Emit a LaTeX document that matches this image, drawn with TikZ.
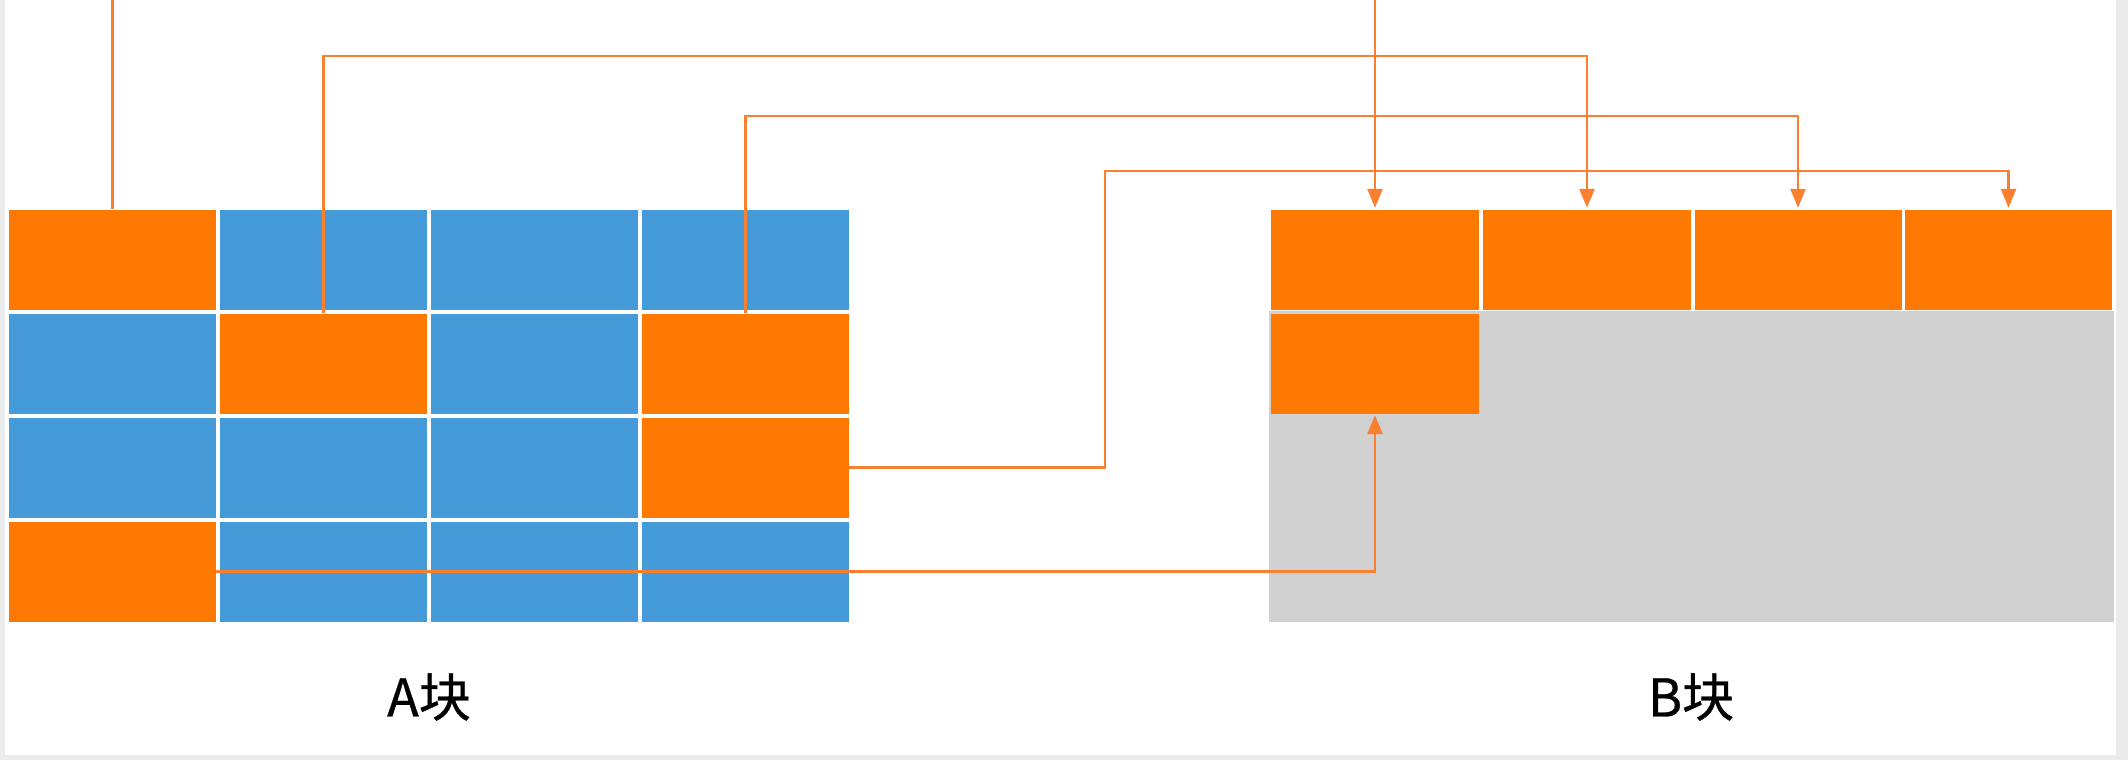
\documentclass[tikz,border=0pt]{standalone}
\usepackage{fontspec}
\newfontfamily\cjk[FakeBold=0.6]{Noto Sans CJK SC}
\usetikzlibrary{arrows.meta}
\definecolor{cellorange}{HTML}{FF7800}
\definecolor{cellblue}{HTML}{449BD8}
\definecolor{cellgray}{HTML}{D1D1D1}
\definecolor{linkorange}{HTML}{FA8030}
\definecolor{framegray}{HTML}{EBEBEB}
\tikzset{
  cell/.style={rectangle, inner sep=0pt, minimum width=207pt, minimum height=100pt, draw=none},
  oc/.style={cell, fill=cellorange},
  bc/.style={cell, fill=cellblue},
  link/.style={draw=linkorange, line width=2.6pt},
  linkarrow/.style={link, -{Triangle[length=19pt,width=15pt]}, shorten >=1.5pt},
  blocklabel/.style={font=\cjk\fontsize{52}{62}\selectfont, inner sep=0pt}
}
\begin{document}
\begin{tikzpicture}[x=1pt,y=-1pt]
\useasboundingbox (0,0) rectangle (2128,760);
\fill[framegray] (0,0) rectangle (2128,760);
\fill[white] (5,0) rectangle (2116,755);
% gray area of B
\fill[cellgray] (1269,311) rectangle (2114,622);
% A block
\node[oc] (a11) at (112.5,259.5) {};
\node[bc] (a12) at (323.5,259.5) {};
\node[bc] (a13) at (534.5,259.5) {};
\node[bc] (a14) at (745.5,259.5) {};
\node[bc] (a21) at (112.5,363.5) {};
\node[oc] (a22) at (323.5,363.5) {};
\node[bc] (a23) at (534.5,363.5) {};
\node[oc] (a24) at (745.5,363.5) {};
\node[bc] (a31) at (112.5,467.5) {};
\node[bc] (a32) at (323.5,467.5) {};
\node[bc] (a33) at (534.5,467.5) {};
\node[oc] (a34) at (745.5,467.5) {};
\node[oc] (a41) at (112.5,571.5) {};
\node[bc] (a42) at (323.5,571.5) {};
\node[bc] (a43) at (534.5,571.5) {};
\node[bc] (a44) at (745.5,571.5) {};
% B block
\node[oc, minimum width=208pt] (b11) at (1375,259.5) {};
\node[oc, minimum width=208pt] (b12) at (1587,259.5) {};
\node[oc, minimum width=207pt] (b13) at (1798,259.5) {};
\node[oc, minimum width=207pt] (b14) at (2008.5,259.5) {};
\node[oc, minimum width=208pt] (b21) at (1375,363.5) {};
% labels
\node[blocklabel] (la) at (429,697) {A块};
\node[blocklabel] (lb) at (1691,697) {B块};
% helper coordinates
\coordinate (topy) at (0,0);
\coordinate (h2) at (0,56);
\coordinate (h3) at (0,116);
\coordinate (k4) at (1105,171);
% connectors
\draw[link] (a11.north) -- (a11.north |- topy);
\draw[linkarrow] (b11.north |- topy) -- (b11.north);
\draw[linkarrow] (a22.north) -- (a22.north |- h2) -| (b12.north);
\draw[linkarrow] (a24.north) -- (a24.north |- h3) -| (b13.north);
\draw[linkarrow] (a34.east) -| (k4) -| (b14.north);
\draw[linkarrow] (a41.east) -| (b21.south);
\end{tikzpicture}
\end{document}
